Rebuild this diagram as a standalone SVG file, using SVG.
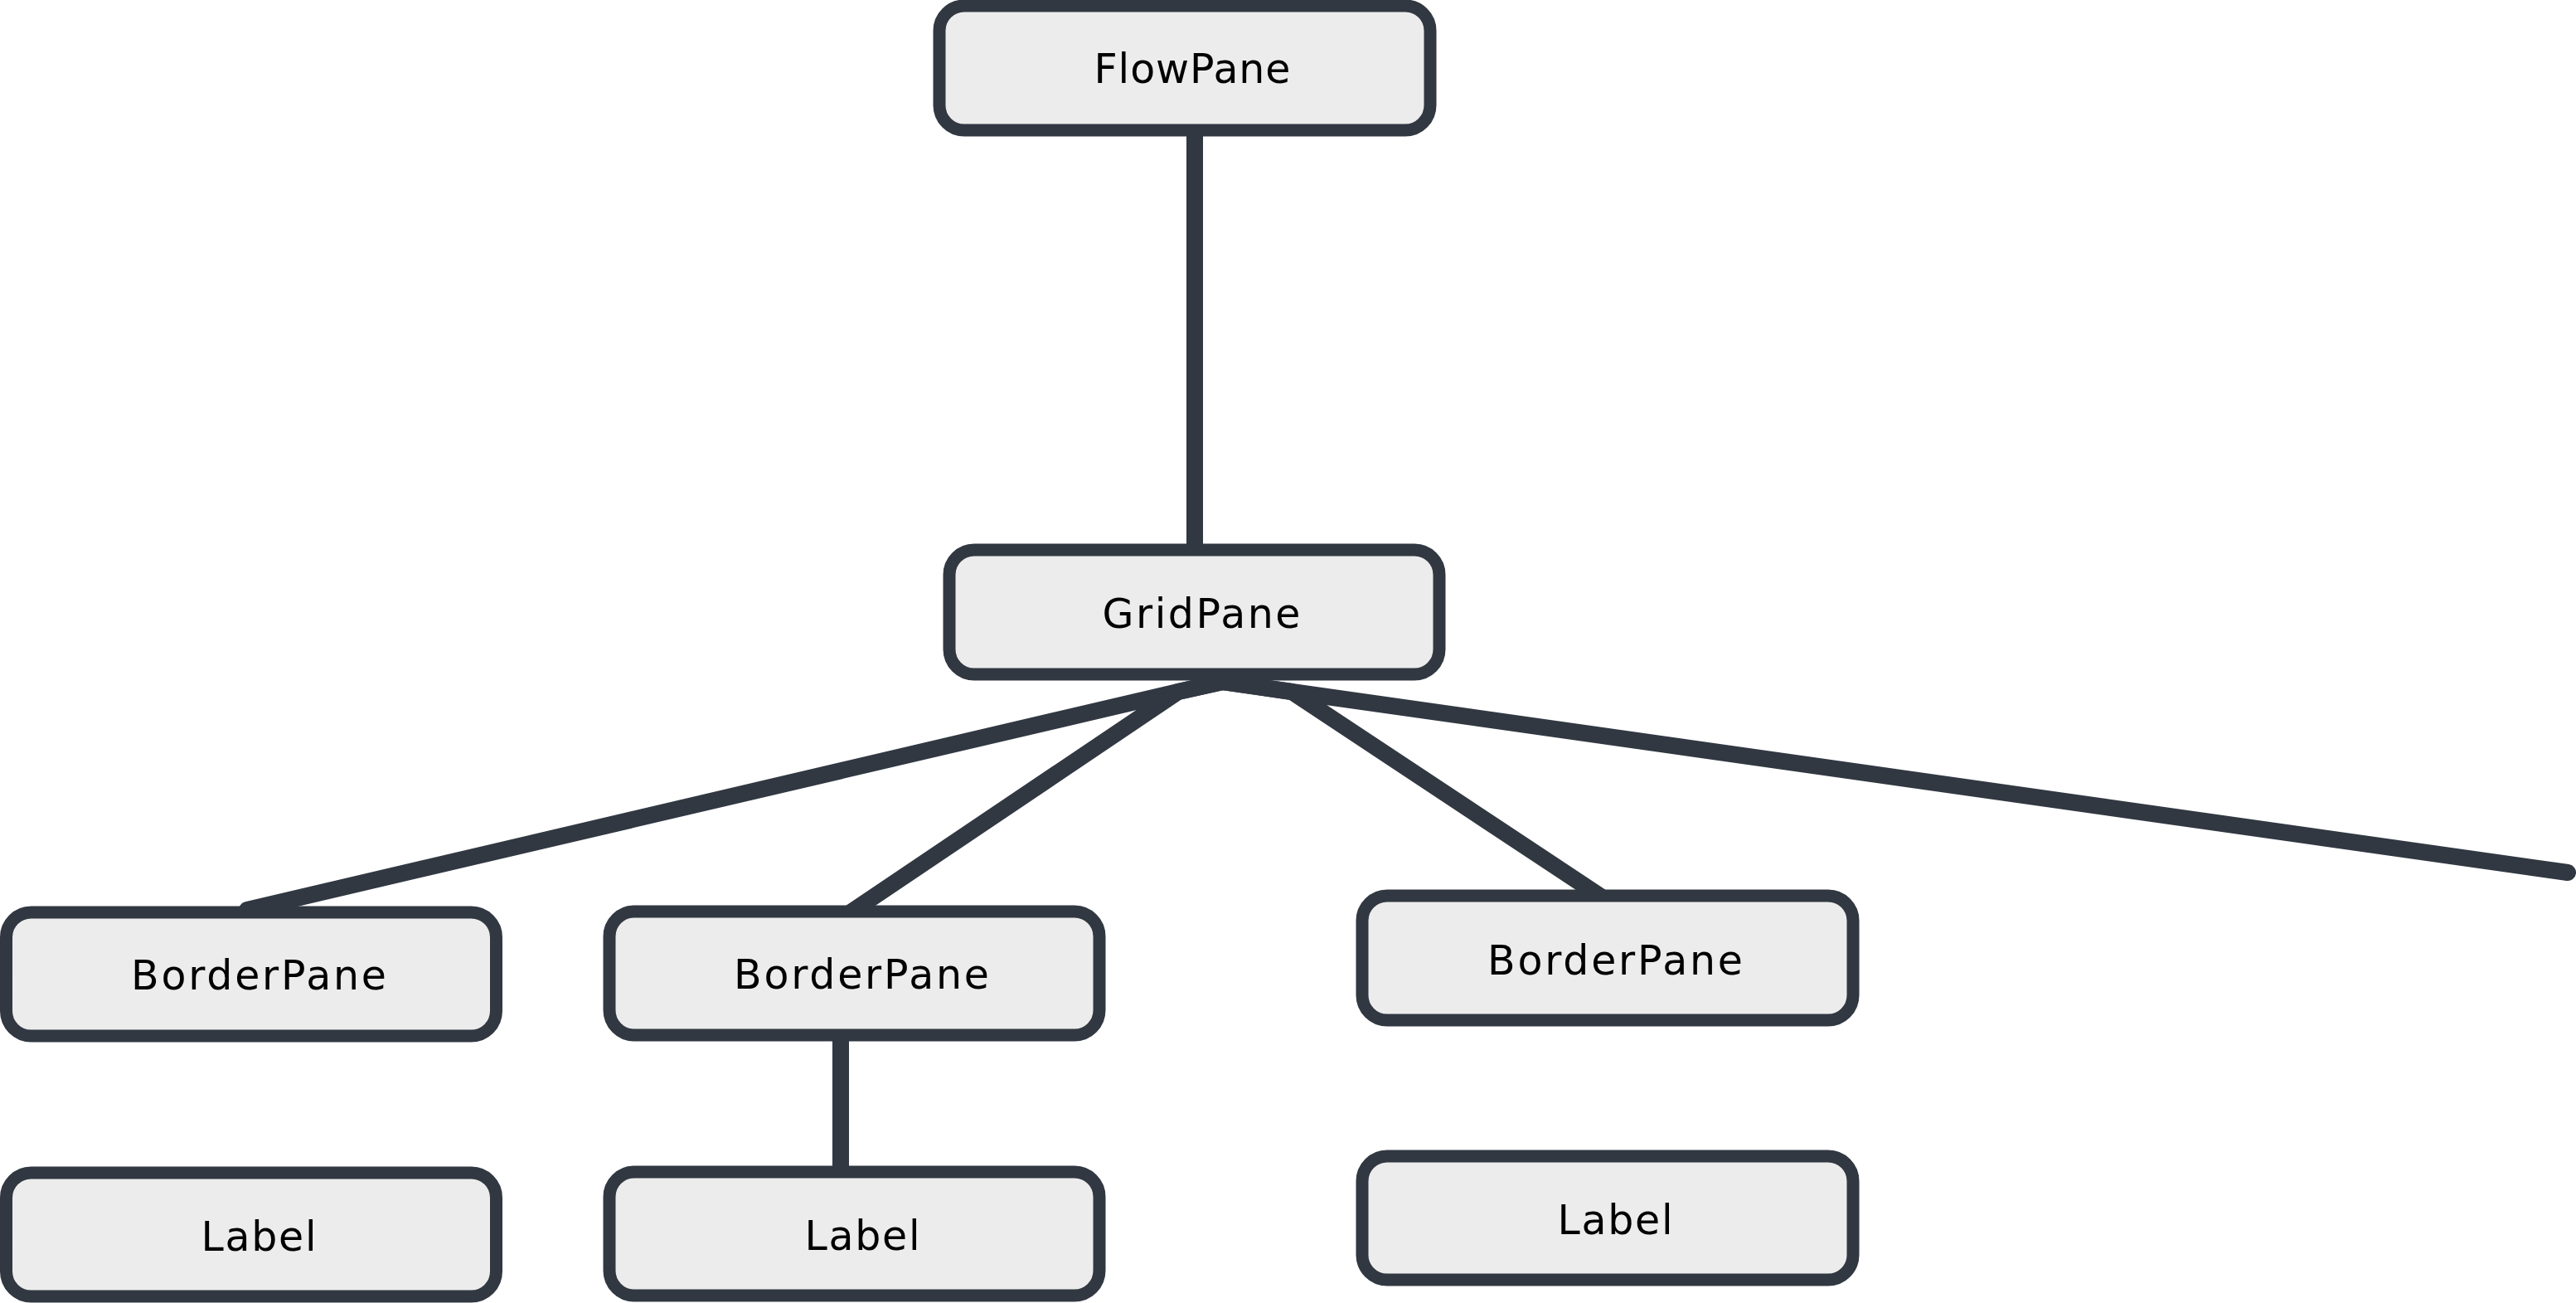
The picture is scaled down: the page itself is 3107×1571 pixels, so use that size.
<svg xmlns="http://www.w3.org/2000/svg" width="3107" height="1571" viewBox="0 0 3107 1571">
  <style>
    .box { fill: #ececec; stroke: #313842; stroke-width: 15; }
    .lbl { font-family: "DejaVu Sans", "Noto Sans", sans-serif; font-size: 49px; fill: #000000; text-anchor: middle; }
    .edge { fill: none; stroke: #313842; stroke-width: 20; stroke-linecap: round; stroke-linejoin: round; }
  </style>
  <rect width="3107" height="1571" fill="#ffffff"/>
  <g id="connectors">
    <path class="edge" d="M1441 157 L1441 663"/>
    <path class="edge" d="M1475 822 L1421 834 L298 1097"/>
    <path class="edge" d="M1475 822 L1421 834 L1026 1100"/>
    <path class="edge" d="M1475 822 L1558 834 L1934 1083"/>
    <path class="edge" d="M1475 822 L1558 834 L3097 1052"/>
    <path class="edge" d="M1014 1248 L1014 1413"/>
  </g>
  <g id="node-flowpane">
    <rect class="box" x="1133" y="7" width="592" height="150" rx="30"/>
    <text class="lbl" x="1438" y="100" textLength="237" lengthAdjust="spacing">FlowPane</text>
  </g>
  <g id="node-gridpane">
    <rect class="box" x="1145" y="663" width="591" height="150" rx="30"/>
    <text class="lbl" x="1449" y="757" textLength="239" lengthAdjust="spacing">GridPane</text>
  </g>
  <g id="node-borderpane1">
    <rect class="box" x="7.5" y="1100" width="591" height="149" rx="30"/>
    <text class="lbl" x="312" y="1193" textLength="308" lengthAdjust="spacing">BorderPane</text>
  </g>
  <g id="node-borderpane2">
    <rect class="box" x="735" y="1099" width="591" height="149" rx="30"/>
    <text class="lbl" x="1039" y="1192" textLength="308" lengthAdjust="spacing">BorderPane</text>
  </g>
  <g id="node-borderpane3">
    <rect class="box" x="1643" y="1080" width="592" height="150" rx="30"/>
    <text class="lbl" x="1948" y="1175" textLength="308" lengthAdjust="spacing">BorderPane</text>
  </g>
  <g id="node-label1">
    <rect class="box" x="7.5" y="1414" width="591" height="149" rx="30"/>
    <text class="lbl" x="312" y="1508" textLength="139" lengthAdjust="spacing">Label</text>
  </g>
  <g id="node-label2">
    <rect class="box" x="735" y="1413" width="591" height="149" rx="30"/>
    <text class="lbl" x="1040" y="1507" textLength="139" lengthAdjust="spacing">Label</text>
  </g>
  <g id="node-label3">
    <rect class="box" x="1643" y="1394" width="592" height="149" rx="30"/>
    <text class="lbl" x="1948" y="1488" textLength="139" lengthAdjust="spacing">Label</text>
  </g>
</svg>
